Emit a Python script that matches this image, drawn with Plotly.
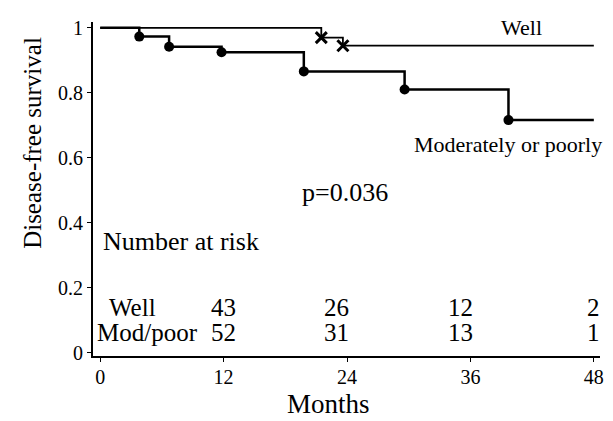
import plotly.graph_objects as go

# Kaplan-Meier data (months, survival)
well_times = [21.5, 23.6]
well_surv = [0.97, 0.945]
mod_times = [3.8, 6.7, 11.8, 19.8, 29.6, 39.7]
mod_surv = [0.973, 0.942, 0.925, 0.866, 0.81, 0.716]
end_time = 48

x_ticks = [0, 12, 24, 36, 48]
y_ticks = [0, 0.2, 0.4, 0.6, 0.8, 1]
y_ticktext = ["0", "0.2", "0.4", "0.6", "0.8", "1"]

risk_times = [12, 23, 35, 48]
risk_well = [43, 26, 12, 2]
risk_mod = [52, 31, 13, 1]

FONT = "Liberation Serif"

fig = go.Figure()

def step_xy(times, surv):
    xs = [0] + times + [end_time]
    ys = [1] + surv + [surv[-1]]
    return xs, ys

wx, wy = step_xy(well_times, well_surv)
mx, my = step_xy(mod_times, mod_surv)

fig.add_trace(go.Scatter(x=wx, y=wy, mode="lines", line=dict(color="black", width=1.8, shape="hv"),
                         showlegend=False, hoverinfo="skip"))
fig.add_trace(go.Scatter(x=mx, y=my, mode="lines", line=dict(color="black", width=2.5, shape="hv"),
                         showlegend=False, hoverinfo="skip"))
fig.add_trace(go.Scatter(x=mod_times, y=mod_surv, mode="markers",
                         marker=dict(symbol="circle", size=10, color="black"), showlegend=False))
fig.add_trace(go.Scatter(x=well_times, y=well_surv, mode="markers",
                         marker=dict(symbol="x-thin", size=11, color="black",
                                     line=dict(color="black", width=3)), showlegend=False))

ann = []
def txt(x, y, s, size, xanchor="center", xref="x", yref="y", angle=0):
    ann.append(dict(x=x, y=y, xref=xref, yref=yref, text=s, showarrow=False,
                    xanchor=xanchor, yanchor="middle", textangle=angle,
                    font=dict(family=FONT, size=size, color="black")))

txt(41, 1.0, "Well", 22)
txt(1.008, 0.64, "Moderately or poorly", 22, xanchor="right", xref="paper")
txt(23.8, 0.494, "p=0.036", 26)
txt(0.1, 0.342, "Number at risk", 26, xanchor="left")
txt(3.1, 0.138, "Well", 25)
txt(4.6, 0.062, "Mod/poor", 25)
for t, v in zip(risk_times, risk_well):
    txt(t, 0.138, str(v), 25)
for t, v in zip(risk_times, risk_mod):
    txt(t, 0.062, str(v), 25)

txt(-0.119, 0.645, "Disease-free survival", 25, xref="paper", angle=-90)
txt(22.2, -0.145, "Months", 27, yref="paper")

fig.update_layout(
    width=605, height=413,
    margin=dict(l=85, r=9, t=9, b=65),
    paper_bgcolor="white", plot_bgcolor="white",
    annotations=ann,
    font=dict(family=FONT, color="black"),
    xaxis=dict(range=[-0.7, 48.6], tickvals=x_ticks, showline=True, linecolor="black", linewidth=2,
               ticks="outside", ticklen=4, tickcolor="black", showgrid=False, zeroline=False,
               ticklabelstandoff=-2,
               tickfont=dict(family=FONT, size=20, color="black")),
    yaxis=dict(range=[-0.01, 1.018], tickvals=y_ticks, ticktext=y_ticktext, showline=True,
               linecolor="black", linewidth=2, ticks="outside", ticklen=4, tickcolor="black",
               showgrid=False, zeroline=False,
               tickfont=dict(family=FONT, size=20, color="black")),
)

fig.write_html("out.html")
